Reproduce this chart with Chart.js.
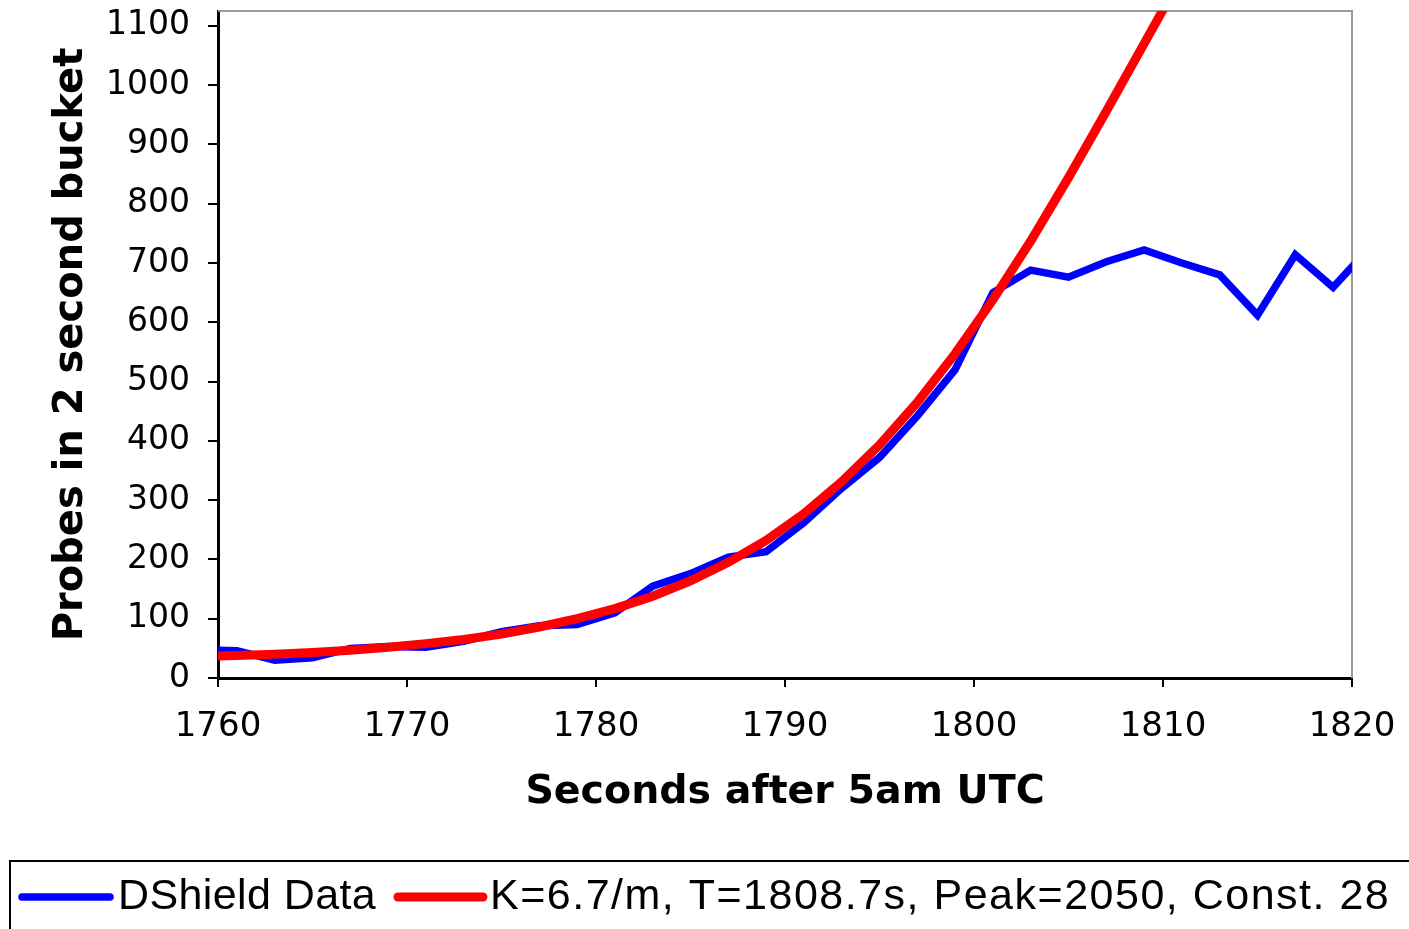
<!DOCTYPE html>
<html>
<head>
<meta charset="utf-8">
<script src="https://cdn.jsdelivr.net/npm/chart.js@4"></script>
<style>
  html, body { margin: 0; padding: 0; background: #fff; }
</style>
</head>
<body>
<canvas id="chart" width="1409" height="929"></canvas>
<script>
// 2 second buckets (centre of bucket)
const seconds = [1759, 1761, 1763, 1765, 1767, 1769, 1771, 1773, 1775, 1777, 1779,
  1781, 1783, 1785, 1787, 1789, 1791, 1793, 1795, 1797, 1799,
  1801, 1803, 1805, 1807, 1809, 1811, 1813, 1815, 1817, 1819, 1821];

const dshieldData = [48, 46, 30, 34, 50, 53, 52, 62, 78, 88, 90,
  110, 155, 176, 204, 213, 262, 320, 372, 442, 520,
  650, 688, 676, 702, 722, 700, 680, 612, 714, 659, 728];

const fitSeconds = [1759, 1761, 1763, 1765, 1767, 1769, 1771, 1773, 1775, 1777, 1779,
  1781, 1783, 1785, 1787, 1789, 1791, 1793, 1795, 1797, 1799,
  1801, 1803, 1805, 1807, 1809, 1811];
const fitValues = [36, 38, 40, 43, 47, 52, 58, 65, 74, 86, 100,
  117, 138, 164, 195, 232, 277, 331, 393, 465, 547,
  638, 737, 844, 956, 1070, 1184];

const xTicks = [1760, 1770, 1780, 1790, 1800, 1810, 1820];
const yTicks = [0, 100, 200, 300, 400, 500, 600, 700, 800, 900, 1000, 1100];

const seriesNames = ["DShield Data", "K=6.7/m, T=1808.7s, Peak=2050, Const. 28"];

function toPoints(xs, ys) {
  return xs.map((x, i) => ({ x: x, y: ys[i] }));
}

// grey top/right frame of the plot area
const plotFrame = {
  id: "plotFrame",
  beforeDatasetsDraw(chart) {
    const { ctx, chartArea } = chart;
    ctx.save();
    ctx.strokeStyle = "#9a9a9a";
    ctx.lineWidth = 2;
    ctx.beginPath();
    ctx.moveTo(chartArea.left, chartArea.top);
    ctx.lineTo(chartArea.right, chartArea.top);
    ctx.lineTo(chartArea.right, chartArea.bottom);
    ctx.stroke();
    ctx.restore();
  },
};

// boxed legend under the chart
const boxLegend = {
  id: "boxLegend",
  afterDraw(chart) {
    const ctx = chart.ctx;
    const y = 897;
    const items = [
      { x1: 22, x2: 110, tx: 118, spacing: "0.4px" },
      { x1: 398, x2: 483, tx: 490, spacing: "1.5px" },
    ];
    ctx.save();
    ctx.strokeStyle = "#000";
    ctx.lineWidth = 2;
    ctx.strokeRect(10, 861, 1430, 120);
    ctx.font = "43px 'Liberation Sans'";
    ctx.textBaseline = "middle";
    ctx.fillStyle = "#000";
    chart.data.datasets.forEach((ds, i) => {
      const it = items[i];
      ctx.strokeStyle = ds.borderColor;
      ctx.lineWidth = ds.borderWidth;
      ctx.lineCap = "round";
      ctx.beginPath();
      ctx.moveTo(it.x1, y);
      ctx.lineTo(it.x2, y);
      ctx.stroke();
      ctx.letterSpacing = it.spacing;
      ctx.fillText(ds.label, it.tx, y);
    });
    ctx.restore();
  },
};

const ctx = document.getElementById("chart").getContext("2d");
new Chart(ctx, {
  type: "line",
  data: {
    datasets: [
      {
        label: seriesNames[0],
        data: toPoints(seconds, dshieldData),
        borderColor: "#0000ff",
        borderWidth: 7.5,
        pointRadius: 0,
        tension: 0,
        order: 2,
      },
      {
        label: seriesNames[1],
        data: toPoints(fitSeconds, fitValues),
        borderColor: "#ff0000",
        borderWidth: 9,
        pointRadius: 0,
        tension: 0,
        order: 1,
      },
    ],
  },
  options: {
    responsive: false,
    animation: false,
    layout: { padding: { left: 0, top: 11, right: 57, bottom: 113 } },
    plugins: {
      legend: { display: false },
      tooltip: { enabled: false },
    },
    scales: {
      x: {
        type: "linear",
        min: 1760,
        max: 1820,
        afterFit: (scale) => {
          scale.height = 138;
          scale.paddingLeft = 0;
          scale.paddingRight = 0;
        },
        afterBuildTicks: (scale) => { scale.ticks = xTicks.map((v) => ({ value: v })); },
        ticks: {
          font: { family: "DejaVu Sans", size: 34 },
          color: "#000",
          padding: 20,
          maxRotation: 0,
          callback: (v) => String(v),
        },
        grid: { drawOnChartArea: false, drawTicks: true, tickLength: 9, color: "#000", lineWidth: 2 },
        border: { display: true, color: "#000", width: 3 },
        title: {
          display: true,
          text: "Seconds after 5am UTC",
          font: { family: "DejaVu Sans", size: 39.5, weight: "bold" },
          color: "#000",
          padding: { top: 0, bottom: 0 },
        },
      },
      y: {
        min: 0,
        max: 1125,
        afterFit: (scale) => {
          scale.width = 218;
          scale.paddingTop = 0;
          scale.paddingBottom = 0;
        },
        afterBuildTicks: (scale) => { scale.ticks = yTicks.map((v) => ({ value: v })); },
        ticks: {
          font: { family: "DejaVu Sans", size: 33 },
          color: "#000",
          padding: 18,
          callback: (v) => String(v),
        },
        grid: { drawOnChartArea: false, drawTicks: true, tickLength: 10, color: "#000", lineWidth: 2 },
        border: { display: true, color: "#000", width: 3 },
        title: {
          display: true,
          text: "Probes in 2 second bucket",
          font: { family: "DejaVu Sans", size: 40, weight: "bold" },
          color: "#000",
          padding: { top: 48, bottom: 0 },
        },
      },
    },
  },
  plugins: [plotFrame, boxLegend],
});
</script>
</body>
</html>
